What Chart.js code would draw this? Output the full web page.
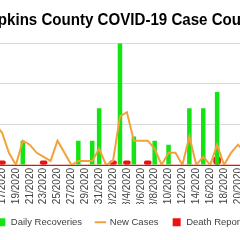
<!DOCTYPE html>
<html>
<head>
<meta charset="utf-8">
<script src="https://cdn.jsdelivr.net/npm/chart.js@4"></script>
<style>
  body { margin: 0; background: #fff; }
  #frame { position: relative; width: 240px; height: 240px; overflow: hidden; }
  #wrap { position: absolute; left: -32px; top: 0; width: 308px; height: 240px; }
</style>
</head>
<body>
<div id="frame"><div id="wrap"><canvas id="myChart"></canvas></div></div>
<script>
const dates = [
    '7/14/2020', '7/15/2020', '7/16/2020', '7/17/2020', '7/18/2020', '7/19/2020',
    '7/20/2020', '7/21/2020', '7/22/2020', '7/23/2020', '7/24/2020', '7/25/2020',
    '7/26/2020', '7/27/2020', '7/28/2020', '7/29/2020', '7/30/2020', '7/31/2020',
    '8/1/2020', '8/2/2020', '8/3/2020', '8/4/2020', '8/5/2020', '8/6/2020',
    '8/7/2020', '8/8/2020', '8/9/2020', '8/10/2020', '8/11/2020', '8/12/2020',
    '8/13/2020', '8/14/2020', '8/15/2020', '8/16/2020', '8/17/2020', '8/18/2020',
    '8/19/2020', '8/20/2020', '8/21/2020', '8/22/2020'
];

const dailyRecoveries = [
    0, 0, 0, 0, 0, 0,
    6, 0, 0, 0, 0, 0,
    0, 0, 6, 0, 6, 14,
    0, 0, 30, 0, 7, 0,
    0, 6, 0, 5, 0, 0,
    14, 0, 14, 0, 18, 0,
    0, 0, 0, 0
];

const newCases = [
    4, 6, 10, 8, 3, 0,
    6, 5, 3, 2, 1, 6,
    3, 0, 1, 1, 1, 4,
    0, 1, 12, 13, 6, 6,
    6, 4, 0, 3, 3, 0,
    7, 0, 2, 0, 5, 0,
    3, 5, 3, 2
];

const deathReports = [
    0, 0, 0, 1, 0, 0,
    0, 0, 0, 1, 0, 0,
    0, 0, 0, 0, 0, 0,
    0, 1, 0, 1, 0, 0,
    1, 0, 0, 0, 0, 0,
    0, 0, 0, 0, 2, 0,
    0, 0, 0, 0
];

const yTicks = [0, 10, 20, 30];

const ctx = document.getElementById('myChart');

new Chart(ctx, {
    type: 'bar',
    data: {
        labels: dates,
        datasets: [
            {
                label: 'Daily Recoveries',
                data: dailyRecoveries,
                backgroundColor: '#14e314',
                borderWidth: 0,
                barPercentage: 0.65,
                categoryPercentage: 1,
                grouped: false,
                pointStyle: 'rect',
                order: 1
            },
            {
                type: 'line',
                label: 'New Cases',
                data: newCases,
                borderColor: '#f0a33a',
                backgroundColor: '#f0a33a',
                borderWidth: 2,
                pointRadius: 0,
                tension: 0,
                pointStyle: 'line',
                order: 0
            },
            {
                label: 'Death Reports',
                data: deathReports,
                backgroundColor: '#ee1111',
                borderWidth: 0,
                borderRadius: 3,
                borderSkipped: false,
                barPercentage: 1,
                categoryPercentage: 1,
                grouped: false,
                pointStyle: 'rect',
                order: 2
            }
        ]
    },
    options: {
        responsive: true,
        maintainAspectRatio: false,
        animation: false,
        layout: { padding: { bottom: 3 } },
        scales: {
            x: {
                grid: { display: false, drawTicks: false },
                border: { color: '#7f3a3a', width: 1 },
                ticks: {
                    autoSkip: false,
                    minRotation: 90,
                    maxRotation: 90,
                    padding: 3,
                    color: '#404040',
                    font: { family: 'Liberation Sans, Arial', size: 10 },
                    // every other date, starting at 7/15
                    callback: function(value, index) {
                        return index % 2 === 1 ? dates[index] : '';
                    }
                },
                afterFit: function(scale) {
                    scale.height = 39;
                }
            },
            y: {
                min: yTicks[0],
                max: yTicks[yTicks.length - 1],
                grid: { color: '#d9d9d9', drawTicks: false },
                border: { display: false },
                ticks: {
                    stepSize: 10,
                    color: '#404040',
                    font: { family: 'Liberation Sans, Arial', size: 10 }
                },
                afterFit: function(scale) {
                    scale.width = 9.7;
                }
            },
            // empty right-hand strip, off screen
            y2: {
                position: 'right',
                min: yTicks[0],
                max: yTicks[yTicks.length - 1],
                grid: { display: false, drawTicks: false },
                border: { display: false },
                ticks: { display: false },
                afterFit: function(scale) {
                    scale.width = 20.7;
                }
            }
        },
        plugins: {
            title: {
                display: true,
                fullSize: false,
                text: 'Hopkins County COVID-19 Case Count',
                color: '#000',
                font: { family: 'Liberation Sans, Arial', size: 16, weight: 'bold' },
                padding: { top: 11, bottom: 13 }
            },
            legend: {
                position: 'bottom',
                labels: {
                    usePointStyle: true,
                    boxWidth: 10,
                    boxHeight: 8,
                    padding: 13.5,
                    color: '#404040',
                    font: { family: 'Liberation Sans, Arial', size: 9.5 },
                    sort: function(a, b) {
                        return a.datasetIndex - b.datasetIndex;
                    }
                }
            },
            tooltip: { enabled: false }
        }
    }
});
</script>
</body>
</html>
